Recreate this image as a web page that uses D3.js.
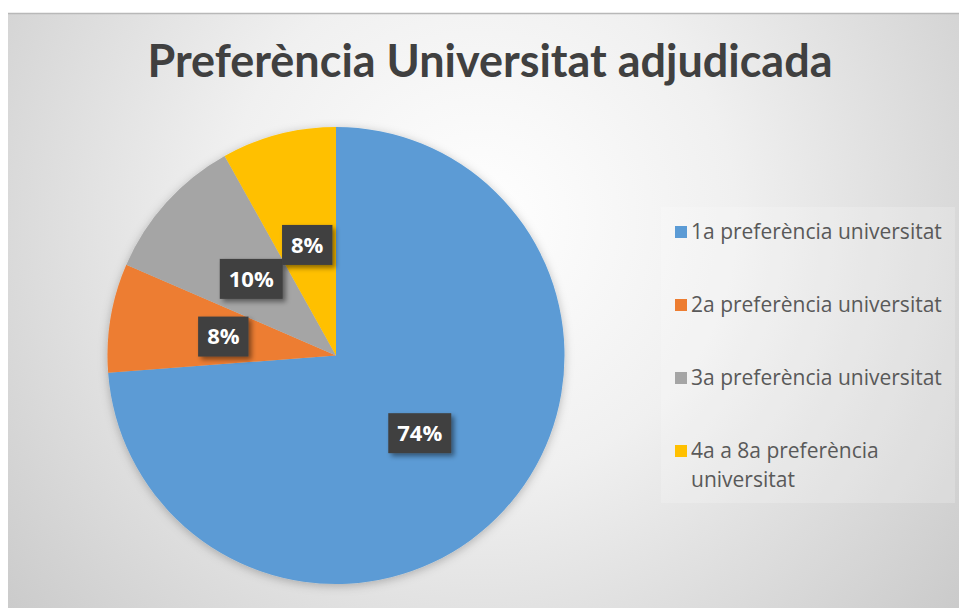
<!DOCTYPE html>
<html>
<head>
<meta charset="utf-8">
<script src="https://cdn.jsdelivr.net/npm/d3@7"></script>
<style>
  html, body { margin: 0; padding: 0; background: #fff; }
  svg { display: block; }
</style>
</head>
<body>
<div id="chart"></div>
<script>
const TITLE = 'Preferència Universitat adjudicada';
const CATEGORIES = [
  '1a preferència universitat',
  '2a preferència universitat',
  '3a preferència universitat',
  '4a a 8a preferència universitat'
];
const LEGEND_LINES = [
  ['1a preferència universitat'],
  ['2a preferència universitat'],
  ['3a preferència universitat'],
  ['4a a 8a preferència', 'universitat']
];
const VALUES = [73.8, 7.7, 10.4, 8.1];
const COLORS = ['#5B9BD5', '#ED7D31', '#A5A5A5', '#FFC000'];

const W = 959, H = 608;
const area = { x: 8, y: 13, w: W - 8, h: H - 13 };

const svg = d3.select('#chart').append('svg')
  .attr('width', W).attr('height', H);

const defs = svg.append('defs');

const bg = defs.append('radialGradient')
  .attr('id', 'bg')
  .attr('gradientUnits', 'userSpaceOnUse')
  .attr('cx', 480).attr('cy', 220).attr('r', 640);
bg.append('stop').attr('offset', '0%').attr('stop-color', '#ffffff');
bg.append('stop').attr('offset', '40%').attr('stop-color', '#f0f0f0');
bg.append('stop').attr('offset', '100%').attr('stop-color', '#c8c8c8');

const pieShadow = defs.append('filter').attr('id', 'pieShadow')
  .attr('x', '-20%').attr('y', '-20%').attr('width', '140%').attr('height', '140%');
pieShadow.append('feDropShadow')
  .attr('dx', 0).attr('dy', 2).attr('stdDeviation', 5)
  .attr('flood-color', '#000').attr('flood-opacity', 0.25);

const boxShadow = defs.append('filter').attr('id', 'boxShadow')
  .attr('x', '-30%').attr('y', '-30%').attr('width', '160%').attr('height', '160%');
boxShadow.append('feDropShadow')
  .attr('dx', 3).attr('dy', 3).attr('stdDeviation', 2.5)
  .attr('flood-color', '#000').attr('flood-opacity', 0.45);

// chart area
svg.append('rect')
  .attr('x', area.x).attr('y', area.y)
  .attr('width', area.w).attr('height', area.h)
  .attr('fill', 'url(#bg)');
svg.append('line')
  .attr('x1', area.x).attr('x2', W)
  .attr('y1', area.y + 0.5).attr('y2', area.y + 0.5)
  .attr('stroke', '#b8b8b8').attr('stroke-width', 1.5);

// title
svg.append('text')
  .attr('x', 490).attr('y', 77)
  .attr('text-anchor', 'middle')
  .attr('font-family', 'Lato, "Open Sans", sans-serif')
  .attr('font-weight', 700)
  .attr('font-size', 46)
  .attr('fill', '#404040')
  .attr('textLength', 685)
  .attr('lengthAdjust', 'spacingAndGlyphs')
  .text(TITLE);

// pie
const cx = 336, cy = 355.5, r = 228.5;
const pie = d3.pie().sort(null).value(d => d);
const arcs = pie(VALUES);
const arc = d3.arc().innerRadius(0).outerRadius(r);
const total = d3.sum(VALUES);
const fmt = d3.format('.0%');

const g = svg.append('g').attr('transform', `translate(${cx},${cy})`);

g.append('g').attr('filter', 'url(#pieShadow)')
  .selectAll('path')
  .data(arcs)
  .join('path')
  .attr('d', arc)
  .attr('fill', (d, i) => COLORS[i]);

// data labels
const labels = g.selectAll('g.lbl')
  .data(arcs)
  .join('g')
  .attr('class', 'lbl')
  .attr('transform', d => `translate(${arc.centroid(d)})`);

labels.each(function (d) {
  const sel = d3.select(this);
  const t = sel.append('text')
    .attr('text-anchor', 'middle')
    .attr('dy', '0.36em')
    .attr('font-family', '"Open Sans", sans-serif')
    .attr('font-weight', 700)
    .attr('font-size', 22)
    .attr('fill', '#fff')
    .text(fmt(d.data / total));
  const bw = t.node().getComputedTextLength() + 18;
  const bh = 40;
  sel.insert('rect', 'text')
    .attr('x', -bw / 2).attr('y', -bh / 2)
    .attr('width', bw).attr('height', bh)
    .attr('fill', '#404040')
    .attr('filter', 'url(#boxShadow)');
});

// legend
const legend = svg.append('g');
legend.append('rect')
  .attr('x', 661).attr('y', 207)
  .attr('width', 294).attr('height', 296)
  .attr('fill', '#ffffff').attr('fill-opacity', 0.2);

const rowY = d3.scalePoint().domain(d3.range(CATEGORIES.length)).range([239, 458]);

const rows = legend.selectAll('g.row')
  .data(CATEGORIES)
  .join('g')
  .attr('class', 'row')
  .attr('transform', (d, i) => `translate(0,${rowY(i)})`);

rows.append('rect')
  .attr('x', 675).attr('y', -13)
  .attr('width', 12).attr('height', 12)
  .attr('fill', (d, i) => COLORS[i]);

rows.each(function (d, i) {
  const t = d3.select(this).append('text')
    .attr('x', 691)
    .attr('font-family', '"Open Sans", sans-serif')
    .attr('font-size', 21)
    .attr('fill', '#595959');
  LEGEND_LINES[i].forEach((line, k) => {
    t.append('tspan').attr('x', 691).attr('y', k * 29).text(line);
  });
});
</script>
</body>
</html>
